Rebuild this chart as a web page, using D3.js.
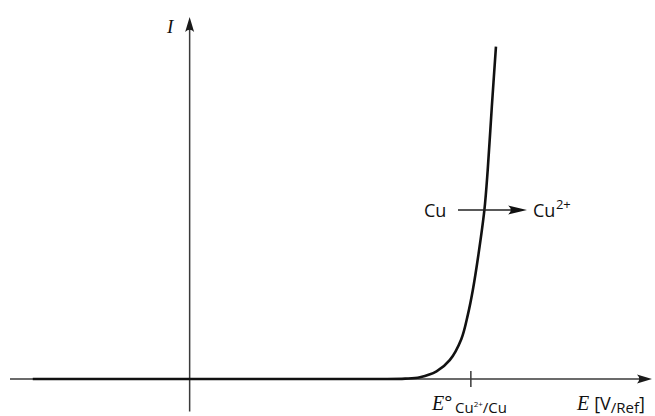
<!DOCTYPE html>
<html><head><meta charset="utf-8">
<script src="https://cdn.jsdelivr.net/npm/d3@7"></script>
<style>
html,body{margin:0;padding:0;background:#fff;}
svg{display:block;}
.sans{font-family:"Open Sans","Noto Sans",sans-serif;}
.serif{font-family:"Liberation Serif","DejaVu Serif",serif;font-style:italic;}
</style>
</head><body>
<svg id="chart" width="655" height="416"></svg>
<script>
// Data: anodic polarisation curve of copper (potential E in V vs ref, current I arbitrary)
const potentials = [-0.190, 0.150, 0.231, 0.261, 0.279, 0.299, 0.315, 0.329, 0.337, 0.343, 0.350, 0.357, 0.361, 0.366, 0.371];
const currents   = [0,      0,     0,     0.11,  0.5,   2.1,   5.2,   11.0,  17.8,  24.6,  34.7,  46.7,  57.7,  75.2,  91.8];
const eStandard = [0.34];
const xDomain = [-0.22, 0.56];
const yDomain = [-9, 100];

const svg = d3.select("#chart");
const x = d3.scaleLinear().domain(xDomain).range([8, 652]);
const y = d3.scaleLinear().domain(yDomain).range([411.6, 17]);
const axisColor = "#3a3a3a";

// x axis
const xAxis = svg.append("g").attr("transform", `translate(0,${y(0)})`)
  .call(d3.axisBottom(x).tickValues(eStandard).tickSizeOuter(0).tickSize(8).tickFormat(""));
xAxis.select(".domain").attr("stroke", axisColor).attr("stroke-width", 1.5)
  .attr("d", `M${x(xDomain[0])+2},0H${x(xDomain[1])-6}`);
xAxis.selectAll(".tick line").attr("stroke", axisColor).attr("stroke-width", 1.5).attr("y1", -8).attr("y2", 8);

// y axis
const yAxis = svg.append("g").attr("transform", `translate(${x(0)},0)`)
  .call(d3.axisLeft(y).tickValues([]).tickSizeOuter(0));
yAxis.select(".domain").attr("stroke", axisColor).attr("stroke-width", 1.5)
  .attr("d", `M0,${y(yDomain[0])}V${y(yDomain[1])+6}`);

function arrowHead(tx, ty, dir, len, half, color){
  let p;
  if(dir === "right"){
    p = `M${tx},${ty} L${tx-len},${ty-half} Q${tx-len*0.7},${ty} ${tx-len},${ty+half} Z`;
  } else {
    p = `M${tx},${ty} L${tx-half},${ty+len} Q${tx},${ty+len*0.7} ${tx+half},${ty+len} Z`;
  }
  svg.append("path").attr("d", p).attr("fill", color);
}
arrowHead(x(xDomain[1]), y(0), "right", 15, 4.5, "#1a1a1a");
arrowHead(x(0), y(yDomain[1]), "up", 15, 4.5, "#1a1a1a");

// curve
const pts = potentials.map((e, i) => [e, currents[i]]);
svg.append("path").datum(pts)
  .attr("fill", "none").attr("stroke", "#111").attr("stroke-width", 2.6)
  .attr("stroke-linecap", "butt")
  .attr("d", d3.line().x(d => x(d[0])).y(d => y(Math.max(0, d[1]))).curve(d3.curveCatmullRom.alpha(0.5)));

// reaction arrow
const ay = 210;
svg.append("line").attr("x1", 458).attr("x2", 516).attr("y1", ay).attr("y2", ay)
  .attr("stroke", "#222").attr("stroke-width", 1.6);
arrowHead(527, ay, "right", 19, 4.5, "#111");
svg.append("text").attr("class", "sans").attr("x", 424).attr("y", 217)
  .attr("font-size", 18).attr("fill", "#111").text("Cu");
const t2 = svg.append("text").attr("class", "sans").attr("x", 533).attr("y", 217)
  .attr("font-size", 18).attr("fill", "#111");
t2.append("tspan").text("Cu");
t2.append("tspan").attr("font-size", 13).attr("dy", -8).attr("dx", 0.5).text("2+");

// axis labels
svg.append("text").attr("class", "serif").attr("x", 167).attr("y", 33)
  .attr("font-size", 19).attr("fill", "#111").text("I");

const e0 = svg.append("text").attr("x", 432).attr("y", 410).attr("fill", "#111");
e0.append("tspan").attr("class", "serif").attr("font-size", 20).text("E");
e0.append("tspan").attr("class", "sans").attr("font-size", 19).attr("dy", -1).text("°");
const sub = svg.append("text").attr("class", "sans").attr("x", 455).attr("y", 413)
  .attr("font-size", 15).attr("fill", "#111");
sub.append("tspan").text("Cu");
sub.append("tspan").attr("font-size", 8).attr("dy", -6).text("2+");
sub.append("tspan").attr("dy", 6).text("/Cu");

const eLab = svg.append("text").attr("x", 577).attr("y", 410).attr("fill", "#111");
eLab.append("tspan").attr("class", "serif").attr("font-size", 20).text("E");
eLab.append("tspan").attr("class", "sans").attr("font-size", 18).attr("dx", 5).text("[V");
eLab.append("tspan").attr("class", "sans").attr("font-size", 15).attr("dy", 3).text("/Ref");
eLab.append("tspan").attr("class", "sans").attr("font-size", 18).attr("dy", -3).text("]");
</script>
</body></html>
